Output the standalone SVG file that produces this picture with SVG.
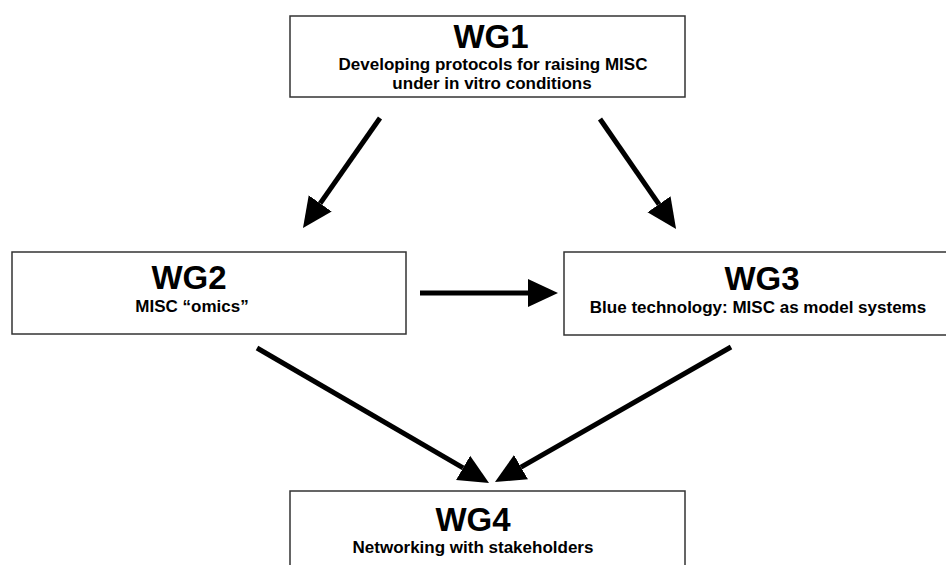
<svg xmlns="http://www.w3.org/2000/svg" width="946" height="565" viewBox="0 0 946 565">
  <style>
    .box { fill: #ffffff; stroke: #333333; stroke-width: 1.5; }
    .title { font-family: "Liberation Sans", Arial, sans-serif; font-weight: bold; font-size: 33px; fill: #000000; text-anchor: middle; }
    .sub { font-family: "Liberation Sans", Arial, sans-serif; font-weight: bold; font-size: 17px; fill: #000000; text-anchor: middle; }
    .arrow { stroke: #000000; stroke-width: 5; fill: none; marker-end: url(#head); }
  </style>
  <defs>
    <marker id="head" markerUnits="userSpaceOnUse" markerWidth="32" markerHeight="32" viewBox="0 -16 32 32" refX="0" refY="0" orient="auto">
      <path d="M0,-14 L30,0 L0,14 Z" fill="#000000"/>
    </marker>
  </defs>
  <rect width="946" height="565" fill="#ffffff"/>
  <g id="connectors">
    <line class="arrow" x1="380" y1="118" x2="320.2" y2="203.4"/>
    <line class="arrow" x1="600" y1="119" x2="659" y2="204.3"/>
    <line class="arrow" x1="420" y1="293" x2="528" y2="293"/>
    <line class="arrow" x1="257" y1="348" x2="463.1" y2="467.9"/>
    <line class="arrow" x1="731" y1="347" x2="521" y2="467.1"/>
  </g>
  <g id="wg1">
    <rect class="box" x="290" y="16" width="395" height="81"/>
    <text class="title" x="491" y="48">WG1</text>
    <text class="sub" x="493" y="70">Developing protocols for raising MISC</text>
    <text class="sub" x="492" y="89">under in vitro conditions</text>
  </g>
  <g id="wg2">
    <rect class="box" x="12" y="252" width="394" height="82"/>
    <text class="title" x="189" y="289">WG2</text>
    <text class="sub" x="192" y="312">MISC “omics”</text>
  </g>
  <g id="wg3">
    <rect class="box" x="564" y="252" width="400" height="83"/>
    <text class="title" x="762" y="290">WG3</text>
    <text class="sub" x="758" y="313">Blue technology: MISC as model systems</text>
  </g>
  <g id="wg4">
    <rect class="box" x="290" y="491" width="395" height="100"/>
    <text class="title" x="473" y="531">WG4</text>
    <text class="sub" x="473" y="553">Networking with stakeholders</text>
  </g>
</svg>
